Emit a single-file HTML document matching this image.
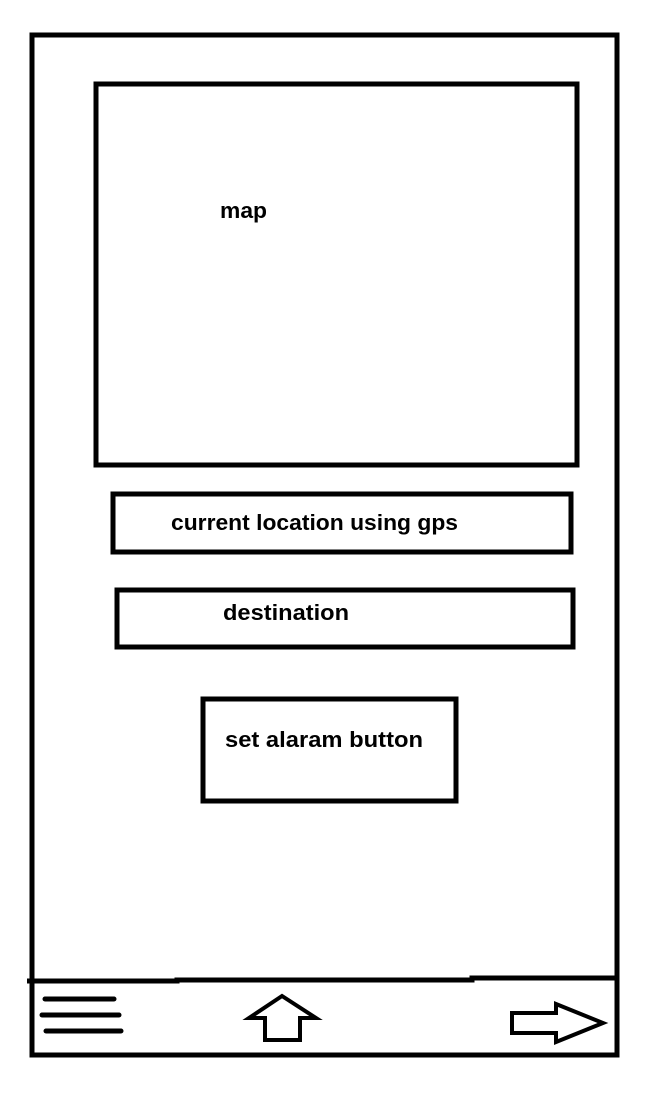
<!DOCTYPE html>
<html><head><meta charset="utf-8"><style>
html,body{margin:0;padding:0;background:#fff;}
svg{display:block;}
text{font-family:"Liberation Sans",sans-serif;font-weight:bold;font-size:22px;fill:#000;}
</style></head><body>
<svg width="664" height="1108" viewBox="0 0 664 1108">
<g fill="none" stroke="#000" stroke-width="5">
<rect x="32" y="35" width="585" height="1020"/>
<rect x="96" y="84" width="481" height="381"/>
<rect x="113" y="494" width="458" height="58"/>
<rect x="117" y="590" width="456" height="57"/>
<rect x="203" y="699" width="253" height="102"/>
<polyline points="27,981 177,981 177,980 472,980 472,978 617,978"/>
<g stroke-linecap="round">
<line x1="45" y1="999" x2="114" y2="999"/>
<line x1="42" y1="1015" x2="119" y2="1015"/>
<line x1="46" y1="1031" x2="121" y2="1031"/>
</g>
<polygon points="282,996 249,1018 265,1018 265,1040 300,1040 300,1018 316,1018" stroke-width="4"/>
<polygon points="512,1013 556,1013 556,1004 603,1023 556,1042 556,1033 512,1033" stroke-width="4"/>
</g>
<text x="220" y="218" textLength="47" lengthAdjust="spacingAndGlyphs">map</text>
<text x="171" y="530" textLength="287" lengthAdjust="spacingAndGlyphs">current location using gps</text>
<text x="223" y="620" textLength="126" lengthAdjust="spacingAndGlyphs">destination</text>
<text x="225" y="747" textLength="198" lengthAdjust="spacingAndGlyphs">set alaram button</text>
</svg>
</body></html>
